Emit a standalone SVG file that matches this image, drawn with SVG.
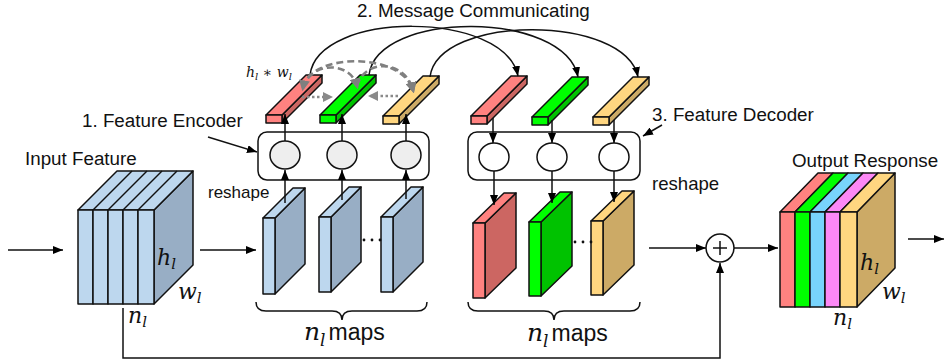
<svg xmlns="http://www.w3.org/2000/svg" width="944" height="364" viewBox="0 0 944 364">
<defs>
<marker id="ah" viewBox="0 0 10 8" refX="10" refY="4" markerWidth="10" markerHeight="8" markerUnits="userSpaceOnUse" orient="auto"><path d="M0,0 L10,4 L0,8 z" fill="#000"/></marker>
<marker id="gh" viewBox="0 0 10 10" refX="7" refY="5" markerWidth="11" markerHeight="11" markerUnits="userSpaceOnUse" orient="auto-start-reverse"><path d="M0,0 L10,5 L0,10 z" fill="#7f7f7f"/></marker>
<marker id="gd" viewBox="0 0 10 10" refX="9" refY="5" markerWidth="10" markerHeight="10" markerUnits="userSpaceOnUse" orient="auto"><path d="M0,0 L10,5 L0,10 z" fill="#8a8a8a"/></marker>
</defs>
<style>
.t{font-family:"Liberation Sans",Arial,sans-serif;fill:#111}
.m{font-family:"DejaVu Serif","Liberation Serif",serif;font-style:italic;fill:#111}
.s{stroke:#111;stroke-width:1.5;stroke-linejoin:round}
.ln{stroke:#111;stroke-width:1.5;fill:none}
.bl{fill:#bdd7ee}.bd{fill:#98aec5}
.rl{fill:#ff8280}.rd{fill:#cc6662}
.gl{fill:#00ff00}.gd{fill:#00c200}
.ol{fill:#ffd680}.od{fill:#ccaa66}
.cl{fill:#78d4fc}.ml{fill:#fc88f6}
.dash{stroke:#808080;stroke-width:2.6;fill:none;stroke-dasharray:7 4}
.dot{stroke:#8a8a8a;stroke-width:2.6;fill:none;stroke-dasharray:2.5 2.5}
</style>

<g id="title-labels">
<text class="t" x="357" y="17" font-size="18.8">2. Message Communicating</text>
<text class="t" x="82" y="127" font-size="18.8">1. Feature Encoder</text>
<text class="t" x="652" y="121" font-size="18.8">3. Feature Decoder</text>
<text class="t" x="25" y="165" font-size="18.8">Input Feature</text>
<text class="t" x="792" y="167" font-size="18.8">Output Response</text>
<text class="t" x="208" y="198" font-size="17">reshape</text>
<text class="t" x="652" y="190" font-size="18.6">reshape</text>
</g>

<g id="input-feature">
<polygon class="bd s" points="154,210 193,171 193,265 154,304"/>
<polygon class="bl s" points="78,210 154,210 193,171 117,171"/>
<line class="ln" x1="93" y1="210" x2="132" y2="171"/>
<line class="ln" x1="108" y1="210" x2="147" y2="171"/>
<line class="ln" x1="123" y1="210" x2="162" y2="171"/>
<line class="ln" x1="138" y1="210" x2="177" y2="171"/>
<rect class="bl s" x="78" y="210" width="15" height="94"/>
<rect class="bl s" x="93" y="210" width="15" height="94"/>
<rect class="bl s" x="108" y="210" width="15" height="94"/>
<rect class="bl s" x="123" y="210" width="15" height="94"/>
<rect class="bl s" x="138" y="210" width="16" height="94"/>
<text class="m" x="157" y="265" font-size="22">h<tspan font-size="15" dy="4">l</tspan></text>
<text class="m" x="178" y="299" font-size="22">w<tspan font-size="15" dy="4">l</tspan></text>
<text class="m" x="128" y="323" font-size="22">n<tspan font-size="15" dy="4">l</tspan></text>
</g>

<g id="encoder-maps">
<g id="enc-map-1"><polygon class="bd s" points="275,218 305,188 305,264 275,294"/><polygon class="bl s" points="263,218 275,218 305,188 293,188"/><rect class="bl s" x="263" y="218" width="12" height="76"/></g>
<g id="enc-map-2"><polygon class="bd s" points="331,217 361,187 361,262 331,292"/><polygon class="bl s" points="319,217 331,217 361,187 349,187"/><rect class="bl s" x="319" y="217" width="12" height="75"/></g>
<g id="enc-map-3"><polygon class="bd s" points="393,217 423,187 423,262 393,292"/><polygon class="bl s" points="381,217 393,217 423,187 411,187"/><rect class="bl s" x="381" y="217" width="12" height="75"/></g>
<circle cx="364" cy="240" r="1.4" fill="#111"/><circle cx="372" cy="240" r="1.4" fill="#111"/><circle cx="380" cy="240" r="1.4" fill="#111"/>
<path class="ln" d="M256,302 Q256,311 266,311 L332,311 Q342,311 342,320 Q342,311 352,311 L417,311 Q427,311 427,302"/>
<text x="304" y="340"><tspan class="m" font-size="25">n</tspan><tspan class="m" font-size="17" dy="6">l</tspan><tspan class="t" font-size="23" dy="-6" dx="3">maps</tspan></text>
</g>

<g id="feature-encoder">
<rect x="258" y="132" width="171" height="48" rx="9" fill="#fff" class="s"/>
<ellipse cx="285" cy="155" rx="15" ry="14" fill="#eeeeee" class="s"/>
<ellipse cx="342" cy="155" rx="15" ry="14" fill="#eeeeee" class="s"/>
<ellipse cx="406" cy="155" rx="15" ry="14" fill="#eeeeee" class="s"/>
</g>

<g id="feature-decoder">
<rect x="468" y="132" width="172" height="48" rx="9" fill="#fff" class="s"/>
<ellipse cx="494" cy="157" rx="15" ry="14" fill="#fff" class="s"/>
<ellipse cx="552" cy="157" rx="15" ry="14" fill="#fff" class="s"/>
<ellipse cx="614" cy="157" rx="15" ry="14" fill="#fff" class="s"/>
</g>

<g id="decoder-maps">
<g id="dec-map-1"><polygon class="rd s" points="485,223 516,193 516,268 485,298"/><polygon class="rl s" points="473,223 485,223 516,193 504,193"/><rect class="rl s" x="473" y="223" width="12" height="75"/></g>
<g id="dec-map-2"><polygon class="gd s" points="541,222 572,192 572,266 541,296"/><polygon class="gl s" points="529,222 541,222 572,192 560,192"/><rect class="gl s" x="529" y="222" width="12" height="74"/></g>
<g id="dec-map-3"><polygon class="od s" points="603,221 634,191 634,265 603,295"/><polygon class="ol s" points="591,221 603,221 634,191 622,191"/><rect class="ol s" x="591" y="221" width="12" height="74"/></g>
<circle cx="575" cy="242" r="1.4" fill="#111"/><circle cx="583" cy="242" r="1.4" fill="#111"/><circle cx="591" cy="242" r="1.4" fill="#111"/>
<path class="ln" d="M468,302 Q468,311 478,311 L544,311 Q554,311 554,320 Q554,311 564,311 L630,311 Q640,311 640,302"/>
<text x="527" y="341"><tspan class="m" font-size="25">n</tspan><tspan class="m" font-size="17" dy="6">l</tspan><tspan class="t" font-size="23" dy="-6" dx="3">maps</tspan></text>
</g>

<g id="encoded-vectors">
<g id="enc-bar-1"><polygon class="rd s" points="282,115 322,75 322,83 282,123"/><polygon class="rl s" points="266,115 282,115 322,75 306,75"/><rect class="rl s" x="266" y="115" width="16" height="8"/></g>
<g id="enc-bar-2"><polygon class="gd s" points="336,115 376,75 376,83 336,123"/><polygon class="gl s" points="320,115 336,115 376,75 360,75"/><rect class="gl s" x="320" y="115" width="16" height="8"/></g>
<g id="enc-bar-3"><polygon class="od s" points="399,116 439,76 439,84 399,124"/><polygon class="ol s" points="383,116 399,116 439,76 423,76"/><rect class="ol s" x="383" y="116" width="16" height="8"/></g>
<text class="m" x="246" y="77" font-size="14">h<tspan font-size="10" dy="3">l</tspan><tspan dy="-3" font-style="normal"> ∗ </tspan>w<tspan font-size="10" dy="3">l</tspan></text>
</g>

<g id="decoded-vectors">
<g id="dec-bar-1"><polygon class="rd s" points="487,116 527,76 527,84 487,124"/><polygon class="rl s" points="471,116 487,116 527,76 511,76"/><rect class="rl s" x="471" y="116" width="16" height="8"/></g>
<g id="dec-bar-2"><polygon class="gd s" points="548,117 588,77 588,85 548,125"/><polygon class="gl s" points="532,117 548,117 588,77 572,77"/><rect class="gl s" x="532" y="117" width="16" height="8"/></g>
<g id="dec-bar-3"><polygon class="od s" points="609,117 649,77 649,85 609,125"/><polygon class="ol s" points="593,117 609,117 649,77 633,77"/><rect class="ol s" x="593" y="117" width="16" height="8"/></g>
</g>

<g id="sum-node">
<circle cx="720" cy="248" r="14" fill="#fff" class="s"/>
<line class="ln" x1="713" y1="248" x2="727" y2="248"/>
<line class="ln" x1="720" y1="241" x2="720" y2="255"/>
</g>

<g id="output-response">
<polygon class="od s" points="857,212 895,173 895,268 857,307"/>
<polygon class="rl s" points="780,212 795,212 833,173 818,173"/>
<polygon class="gl s" points="795,212 810,212 848,173 833,173"/>
<polygon class="cl s" points="810,212 825,212 863,173 848,173"/>
<polygon class="ml s" points="825,212 840,212 878,173 863,173"/>
<polygon class="ol s" points="840,212 857,212 895,173 878,173"/>
<rect class="rl s" x="780" y="212" width="15" height="95"/>
<rect class="gl s" x="795" y="212" width="15" height="95"/>
<rect class="cl s" x="810" y="212" width="15" height="95"/>
<rect class="ml s" x="825" y="212" width="15" height="95"/>
<rect class="ol s" x="840" y="212" width="17" height="95"/>
<text class="m" x="860" y="270" font-size="22">h<tspan font-size="15" dy="4">l</tspan></text>
<text class="m" x="882" y="299" font-size="22">w<tspan font-size="15" dy="4">l</tspan></text>
<text class="m" x="833" y="325" font-size="22">n<tspan font-size="15" dy="4">l</tspan></text>
</g>

<g id="connectors">
<line class="ln" x1="8" y1="250" x2="63" y2="250" marker-end="url(#ah)"/>
<line class="ln" x1="200" y1="250" x2="256" y2="250" marker-end="url(#ah)"/>
<line class="ln" x1="208" y1="137" x2="257" y2="152" stroke-width="1.2" marker-end="url(#ah)"/>
<line class="ln" x1="662" y1="125" x2="643" y2="136" stroke-width="1.2" marker-end="url(#ah)"/>
<line class="ln" x1="285" y1="203" x2="285" y2="170" marker-end="url(#ah)"/>
<line class="ln" x1="342" y1="200" x2="342" y2="170" marker-end="url(#ah)"/>
<line class="ln" x1="406" y1="199" x2="406" y2="170" marker-end="url(#ah)"/>
<line class="ln" x1="285" y1="141" x2="285" y2="114" marker-end="url(#ah)"/>
<line class="ln" x1="342" y1="141" x2="342" y2="114" marker-end="url(#ah)"/>
<line class="ln" x1="406" y1="141" x2="406" y2="114" marker-end="url(#ah)"/>
<line class="ln" x1="493" y1="118" x2="493" y2="143" marker-end="url(#ah)"/>
<line class="ln" x1="552" y1="120" x2="552" y2="143" marker-end="url(#ah)"/>
<line class="ln" x1="614" y1="120" x2="614" y2="143" marker-end="url(#ah)"/>
<line class="ln" x1="494" y1="171" x2="494" y2="205" marker-end="url(#ah)"/>
<line class="ln" x1="552" y1="171" x2="552" y2="203" marker-end="url(#ah)"/>
<line class="ln" x1="614" y1="171" x2="614" y2="202" marker-end="url(#ah)"/>
<path class="ln" d="M310,75 C318,10 505,10 518,76" stroke-width="1.3" marker-end="url(#ah)"/>
<path class="ln" d="M369,75 C377,10 565,10 578,77" stroke-width="1.3" marker-end="url(#ah)"/>
<path class="ln" d="M430,77 C438,14 625,14 638,77" stroke-width="1.3" marker-end="url(#ah)"/>
<path class="dash" d="M303,88 C310,52 402,52 413,90" marker-start="url(#gh)" marker-end="url(#gh)"/>
<path class="dash" d="M303,88 C310,62 350,60 357,86" marker-end="url(#gh)"/>
<path class="dash" d="M357,86 C365,58 405,60 413,90" marker-end="url(#gh)"/>
<line class="dot" x1="302" y1="97" x2="332" y2="97" marker-end="url(#gd)"/>
<line class="dot" x1="398" y1="96" x2="369" y2="96" marker-end="url(#gd)"/>
<line class="ln" x1="649" y1="248" x2="706" y2="248" marker-end="url(#ah)"/>
<line class="ln" x1="734" y1="248" x2="778" y2="248" marker-end="url(#ah)"/>
<line class="ln" x1="908" y1="239" x2="944" y2="239" marker-end="url(#ah)"/>
<polyline class="ln" points="123,308 123,358 720,358 720,263" marker-end="url(#ah)"/>
</g>
</svg>
